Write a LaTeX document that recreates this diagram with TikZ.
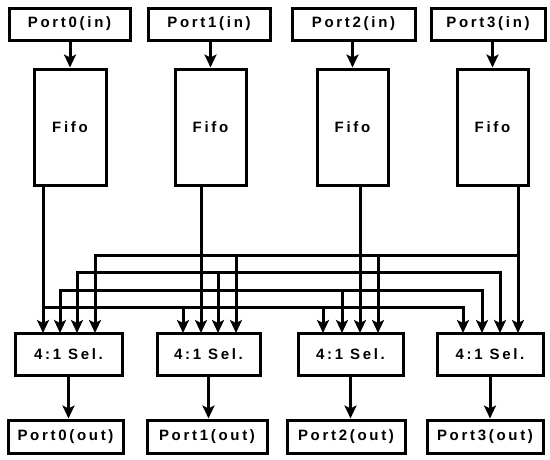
\documentclass[tikz,border=0pt]{standalone}
\usepackage{fontspec}
\setmainfont{Liberation Sans}[LetterSpace=18]
\usetikzlibrary{arrows.meta}
\begin{document}
\begin{tikzpicture}[x=1pt,y=-1pt,
  box/.style={draw, line width=3pt, inner sep=0pt, font=\bfseries\fontsize{15}{17}\selectfont},
  wire/.style={line width=3pt},
  arr/.style={wire, -{Stealth[length=13pt,width=12pt,inset=3pt]}},
]
\useasboundingbox (0,0) rectangle (550,459);
% input ports
\node[box, minimum width=121, minimum height=32] (pin0) at (69.5,24) {Port0(in)};
\node[box, minimum width=122, minimum height=32] (pin1) at (209,24) {Port1(in)};
\node[box, minimum width=123, minimum height=32] (pin2) at (353.5,24) {Port2(in)};
\node[box, minimum width=114, minimum height=32] (pin3) at (488,24) {Port3(in)};
% fifos
\node[box, minimum width=72, minimum height=116] (f0) at (70,127) {Fifo};
\node[box, minimum width=71, minimum height=116] (f1) at (210.5,127) {Fifo};
\node[box, minimum width=71, minimum height=116] (f2) at (352.5,127) {Fifo};
\node[box, minimum width=71, minimum height=116] (f3) at (492.5,127) {Fifo};
% selectors
\node[box, minimum width=107, minimum height=42] (s0) at (68.5,354) {4:1 Sel.};
\node[box, minimum width=103, minimum height=42] (s1) at (208.5,354) {4:1 Sel.};
\node[box, minimum width=105, minimum height=42] (s2) at (350.5,354) {4:1 Sel.};
\node[box, minimum width=106, minimum height=42] (s3) at (490,354) {4:1 Sel.};
% output ports
\node[box, minimum width=115, minimum height=33] (po0) at (65.5,436.5) {Port0(out)};
\node[box, minimum width=120, minimum height=33] (po1) at (207,436.5) {Port1(out)};
\node[box, minimum width=118, minimum height=33] (po2) at (346,436.5) {Port2(out)};
\node[box, minimum width=116, minimum height=33] (po3) at (485,436.5) {Port3(out)};
% port -> fifo
\foreach \i in {0,...,3} \draw[arr] (f\i.north |- pin\i.south) -- (f\i.north);
% sel -> port
\foreach \i in {0,...,3} \draw[arr] (s\i.south) -- (s\i.south |- po\i.north);
% fifo outputs
\coordinate (o0) at (43,185);
\coordinate (o1) at (201,185);
\coordinate (o2) at (360,185);
\coordinate (o3) at (518,185);
% bus levels
\coordinate (b0) at (0,307);
\coordinate (b1) at (0,290);
\coordinate (b2) at (0,272);
\coordinate (b3) at (0,255);
% selector inputs
\coordinate (i00) at (43,333); \coordinate (i01) at (60,333);
\coordinate (i02) at (77,333); \coordinate (i03) at (95,333);
\coordinate (i10) at (183,333); \coordinate (i11) at (201,333);
\coordinate (i12) at (218,333); \coordinate (i13) at (236,333);
\coordinate (i20) at (323,333); \coordinate (i21) at (342,333);
\coordinate (i22) at (360,333); \coordinate (i23) at (378,333);
\coordinate (i30) at (463,333); \coordinate (i31) at (482,333);
\coordinate (i32) at (500,333); \coordinate (i33) at (518,333);
\foreach \f in {0,...,3}{
  \foreach \s in {0,...,3}{
    \ifnum\s=\f
      \draw[arr] (o\f) -- (i\s\f);
    \else
      \draw[arr] (o\f |- b\f) -| (i\s\f);
    \fi
  }
}
\end{tikzpicture}
\end{document}
